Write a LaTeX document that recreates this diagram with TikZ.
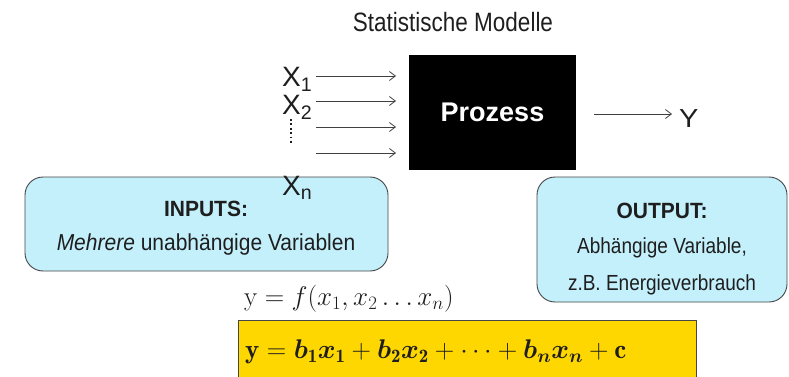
\RequirePackage{fix-cm}
\documentclass[tikz,border=0pt]{standalone}
\usepackage{amsmath}
\usepackage{graphicx}
\usepackage{fontspec}
\newfontfamily\arial{Liberation Sans}
\usetikzlibrary{arrows.meta}
\definecolor{boxcyan}{RGB}{196,240,252}
\definecolor{boxedge}{RGB}{70,70,70}
\definecolor{goldy}{RGB}{255,215,0}
\definecolor{txt}{RGB}{30,30,30}
\newcommand{\bsym}[1]{\boldsymbol{#1}}
\newcommand{\tallr}[2]{\scalebox{1}[#1]{#2}}
\tikzset{
  lbl/.style={inner sep=0pt, text=txt, font=\arial\fontsize{#1}{#1}\selectfont},
  lbl/.default=20,
  roundbox/.style={draw=boxedge, fill=boxcyan, rounded corners=18pt, line width=0.9pt, inner sep=0pt},
  arr/.style={-{Straight Barb[length=6pt,width=9pt]}, line width=0.8pt, draw=black!75},
  mathlbl/.style={inner sep=0pt, text=txt, font=\fontsize{#1}{#1}\selectfont},
}
\begin{document}
\begin{tikzpicture}[x=1pt,y=-1pt]
\useasboundingbox (0,0) rectangle (789,377);
\clip (0,0) rectangle (789,377);
% title
\node[lbl=22.5] (title) at (453,22) {\tallr{1.18}{Statistische Modelle}};
% process box
\node[fill=black, minimum width=167pt, minimum height=115pt, inner sep=0pt, text=white, font=\arial\bfseries\fontsize{27}{27}\selectfont] (proc) at (492.5,112.5) {Prozess};
% input arrows
\coordinate (a1s) at (316,76);  \coordinate (a1e) at (396,76);
\coordinate (a2s) at (316,101); \coordinate (a2e) at (396,101);
\coordinate (a3s) at (316,127); \coordinate (a3e) at (396,127);
\coordinate (a4s) at (316,153); \coordinate (a4e) at (396,153);
\draw[arr] (a1s) -- (a1e);
\draw[arr] (a2s) -- (a2e);
\draw[arr] (a3s) -- (a3e);
\draw[arr] (a4s) -- (a4e);
% output arrow
\coordinate (os) at (594,114); \coordinate (oe) at (672,114);
\draw[arr] (os) -- (oe);
\node[lbl=29, anchor=base west] (ylab) at (679,128) {\tallr{0.9}{Y}};
% boxes
\node[roundbox, minimum width=363pt, minimum height=94pt] (inputs) at (206.5,224) {};
\node[lbl=21] (inT) at (206,209) {\tallr{1.05}{\bfseries INPUTS:}};
\node[lbl=21] (inD) at (206,245) {\tallr{1.1}{\itshape Mehrere\upshape{} unabhängige Variablen}};
\node[roundbox, minimum width=250pt, minimum height=125pt] (outputs) at (662,239.5) {};
\node[lbl=21] (outT) at (662,211) {\tallr{1.05}{\bfseries OUTPUT:}};
\node[lbl=19] (outD1) at (662,248) {\tallr{1.15}{Abhängige Variable,}};
\node[lbl=19] (outD2) at (662,285) {\tallr{1.15}{z.B. Energieverbrauch}};
% X labels
\node[lbl=28, anchor=base west] (x1) at (282,87) {X\textsubscript{1}};
\node[lbl=28, anchor=base west] (x2) at (282,115) {X\textsubscript{2}};
\coordinate (d1) at (291,119); \coordinate (d2) at (291,145);
\draw[line width=1.8pt, dash pattern=on 1.8pt off 2.6pt, draw=txt] (d1) -- (d2);
\node[lbl=28, anchor=base west] (xn) at (282,195) {X\textsubscript{n}};
% formulas
\node[mathlbl=27, anchor=west] (fform) at (244,299) {$\mathrm{y}=f(x_1,x_2\ldots x_n)$};
\node[draw=boxedge, fill=goldy, line width=0.9pt, minimum width=458pt, minimum height=70pt, inner sep=0pt, anchor=north west] (ybox) at (238,320) {};
\node[mathlbl=27, anchor=west] (eqn) at (245,352) {$\mathbf{y}=\bsym{b}_{\mathbf{1}}\bsym{x}_{\mathbf{1}}+\bsym{b}_{\mathbf{2}}\bsym{x}_{\mathbf{2}}+\cdots+\bsym{b}_{\bsym{n}}\bsym{x}_{\bsym{n}}+\mathbf{c}$};
\end{tikzpicture}
\end{document}
